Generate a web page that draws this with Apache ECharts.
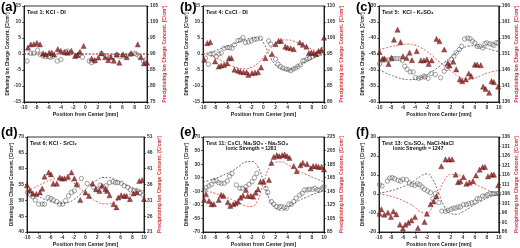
<!DOCTYPE html>
<html>
<head>
<meta charset="utf-8">
<script src="https://cdn.jsdelivr.net/npm/echarts@6/dist/echarts.min.js"></script>
<style>
  html, body { margin: 0; background: #fff; }
  #chart { width: 520px; height: 248px; }
</style>
</head>
<body>
<div id="chart"></div>
<script>
// shared x positions of the model (dashed) curves
const modelX = [-10, -9, -8, -7, -6, -5, -4, -3, -2, -1, 0, 1, 2, 3, 4, 5, 6, 7, 8, 9, 10];

// (a) Test 1: KCl - DI
const aCircles = [[-9.5,-2.2],[-8.9,0.2],[-8.4,0.2],[-7.8,1.2],[-7.4,-0.1],[-6.9,-0.6],[-6.5,-0.8],[-6.0,-0.8],[-5.7,-1.0],[-5.3,-0.8],[-4.6,-2.2],[-4.0,-1.7],[-3.3,0.7],[-2.9,0.9],[-2.4,0.4],[-1.5,-0.6],[-1.1,-0.3],[-0.5,-1.0],[0.6,-2.2],[1.0,-2.7],[1.5,-2.2],[2.6,0.2],[3.3,-0.6],[4.0,-1.1],[4.5,-0.8],[5.1,-0.3],[5.6,-0.8],[6.1,-0.6],[6.7,-0.6],[7.4,-0.1],[8.0,0.2],[8.3,-0.1],[8.8,-0.8],[9.4,-2.2],[9.8,-1.9]];
const aTriangles = [[-9.35,92.0],[-8.9,93.0],[-8.4,93.1],[-7.9,93.5],[-7.4,93.0],[-6.9,90.2],[-6.5,89.9],[-5.9,90.4],[-5.5,90.4],[-5.1,89.9],[-4.5,91.5],[-4.0,91.0],[-3.4,90.5],[-2.9,90.4],[-2.3,91.0],[-1.7,89.4],[-1.3,89.7],[-0.9,90.7],[-0.3,92.5],[1.0,88.6],[1.5,88.1],[2.1,88.9],[2.6,90.2],[3.2,89.0],[3.7,88.1],[4.1,89.0],[4.6,87.9],[5.1,89.9],[5.5,87.3],[6.1,89.9],[6.7,89.0],[7.4,90.2],[8.5,93.0],[9.0,89.0],[9.5,87.1],[10,87.3]];
const aBlack = [0,0,0,0,0,0,0,0,0,0,0,0,0,0,0,0,0,0,0,0,0];
const aRed = [90,90,90,90,90,90,90,90,90,90,90,90,90,90,90,90,90,90,90,90,90];
const aLeftTicks = [-15, -10, -5, 0, 5, 10, 15];
const aRightTicks = [75, 80, 85, 90, 95, 100, 105];

// (b) Test 4: CsCl - DI
const bCircles = [[-9.6,-1.3],[-9.1,-3.2],[-8.7,0],[-8.3,0],[-7.8,-0.8],[-7.4,0],[-7.0,0.3],[-6.5,1.8],[-6.0,2.0],[-5.6,2.0],[-5.2,1.8],[-4.8,2.9],[-4.2,4.2],[-3.8,4.4],[-3.4,5.1],[-3.0,3.6],[-2.5,3.7],[-2.0,4.1],[-1.5,4.6],[-1.1,4.7],[-0.5,4.9],[0.85,4.1],[1.2,3.1],[2.0,-1.6],[2.4,-3.2],[2.8,-3.9],[3.2,-4.4],[3.7,-4.7],[4.1,-4.9],[4.5,-5.2],[4.9,-4.7],[5.3,-4.4],[5.7,-3.9],[6.1,-3.4],[6.5,-2.1],[6.8,-2.1],[7.2,-1.6],[7.6,-1.3],[8.1,-0.8],[8.6,-0.3],[9.0,0],[9.4,0.5],[9.8,1.5]];
const bTriangles = [[-9.8,93.2],[-9.3,98.4],[-8.8,98.7],[-8.0,92.7],[-7.4,91.1],[-7.0,91.4],[-6.5,91.6],[-6.0,92.1],[-5.7,93.7],[-5.3,93.7],[-4.8,90.1],[-4.2,89.8],[-3.8,89.5],[-3.3,89.3],[-2.8,89.3],[-2.5,88.5],[-1.9,89.0],[-1.4,89.2],[-0.9,89.3],[-0.4,90.8],[0.3,93.7],[1.4,95.0],[2.0,98.1],[2.5,99.1],[2.9,99.1],[3.6,97.3],[4.0,97.0],[4.5,96.8],[5.0,96.5],[6.0,98.6],[6.5,97.9],[7.1,97.3],[7.5,95.3],[7.9,95.5],[8.3,95.3],[8.7,95.0],[9.1,96.0],[9.6,96.3],[10,100.1]];
const bBlack = [0,0.4,1,1.7,2.4,3.1,3.8,4.5,5,5.1,3.5,-0.5,-3.5,-4.7,-5,-4.5,-3.5,-2.5,-1.5,-0.7,0];
const bRed = [95,94.7,94,93,92,91.1,90.6,90.4,90.8,92,94,96.5,98.3,99.3,99.4,99,98.2,97.4,96.5,95.7,95];
const bLeftTicks = [-15, -10, -5, 0, 5, 10, 15];
const bRightTicks = [80, 85, 90, 95, 100, 105, 110];

// (c) Test 5: KCl - K2SO4
const cCircles = [[-9.9,-48.1],[-9.4,-46.9],[-8.9,-46.9],[-8.4,-46.9],[-7.9,-46.5],[-7.5,-46.4],[-7.0,-46.4],[-6.5,-46.5],[-6.1,-47.0],[-5.7,-48.8],[-5.3,-49.8],[-4.8,-50.6],[-4.3,-50.6],[-3.9,-52.4],[-3.4,-52.6],[-3.0,-52.4],[-2.5,-51.9],[-2.3,-52.2],[-1.8,-52.6],[-1.3,-51.1],[-0.6,-51.4],[0.3,-52.4],[0.9,-50.4],[1.3,-49.5],[1.5,-48.8],[2.1,-46.7],[2.5,-45.7],[2.9,-44.6],[3.4,-43.6],[3.8,-42.6],[4.3,-40.3],[4.8,-40],[5.2,-40.2],[5.6,-41.0],[6.0,-41.5],[6.4,-42.6],[6.8,-42.6],[7.3,-43.1],[7.7,-41.8],[8.0,-41.5],[8.5,-41.8],[8.9,-42.0],[9.2,-42.3],[9.6,-41.5],[9.9,-41.5]];
const cTriangles = [[-9.9,151.6],[-9.4,149.5],[-9.1,149.6],[-8.4,147.9],[-7.9,149.8],[-7.5,155.5],[-6.9,158.6],[-6.4,154.7],[-6.0,150.3],[-5.4,149.8],[-4.9,151.4],[-4.5,149.1],[-3.7,151.9],[-3.0,149.0],[-2.5,149.0],[-2.0,149.3],[-1.7,147.9],[-1.2,149.0],[-0.4,155.7],[0.1,155.0],[0.9,152.4],[1.5,148.2],[1.8,147.4],[2.4,148.6],[2.9,146.2],[3.5,143.1],[3.9,142.5],[4.5,143.1],[5.0,144.9],[5.4,144.1],[6.0,147.7],[6.4,147.7],[7.0,147.5],[7.4,140.8],[7.8,140.1],[8.4,138.9],[8.8,142.5],[9.2,142.2],[9.9,140.8]];
const cBlack = [-49.8,-50.8,-51.6,-52.3,-52.8,-53,-52.9,-52.4,-51.5,-50.3,-49,-47.5,-46,-44.5,-43.2,-42.5,-42.4,-42.7,-43.2,-43.8,-44.3];
const cRed = [152.4,152.8,153.3,153.7,154,154.1,153.8,153,151.8,150.3,148.7,147.2,145.7,144.3,143.4,143,143.4,144.2,145,145.5,145.9];
const cLeftTicks = [-60, -55, -50, -45, -40, -35, -30];
const cRightTicks = [136, 141, 146, 151, 156, 161, 166];

// (d) Test 6: KCl - SrCl2
const dCircles = [[-9.9,52.5],[-9.4,51.7],[-9.0,51.1],[-8.6,50.1],[-8.0,48.8],[-7.4,48.8],[-7.0,48.8],[-6.4,50.9],[-5.9,50.6],[-5.5,50.1],[-4.9,49.6],[-4.4,48.8],[-3.9,48.8],[-3.4,49.9],[-2.9,51.4],[-2.4,52.5],[-1.9,53.0],[-1.4,54.8],[-0.7,56.9],[0.3,55.3],[1.4,54.1],[1.9,53.5],[2.5,54.8],[3.1,54.1],[3.5,54.6],[4.1,55.6],[4.7,55.9],[5.1,55.6],[5.5,55.6],[6.1,55.4],[6.6,54.6],[7.2,54.1],[7.7,53.3],[8.2,53.0],[8.8,53.0],[9.3,52.3],[9.8,51.7]];
const dTriangles = [[-10,35.8],[-9.5,34.2],[-9.0,33.2],[-8.4,33.0],[-7.8,33.5],[-7.4,34.7],[-7.0,38.5],[-6.3,39.8],[-5.9,39.2],[-5.5,36.3],[-4.9,36.3],[-4.4,38.2],[-4.0,37.9],[-3.6,37.9],[-3.0,38.5],[-2.4,39.8],[-1.9,37.9],[-1.5,36.1],[-0.9,31.1],[0,33.5],[0.6,32.4],[1.2,36.3],[1.8,34.5],[2.4,34.0],[2.8,35.6],[3.4,34.5],[3.7,34.0],[4.1,32.6],[4.8,29.8],[5.3,28.8],[5.6,31.9],[6.1,32.6],[6.6,32.4],[7.0,32.4],[7.6,31.4],[8.2,33.2],[8.8,33.5],[9.2,37.1],[9.7,37.4],[10,31.4]];
const dBlack = [53,52.2,51.2,50.3,49.6,49.1,49,49.3,50.2,51.7,53.5,55.2,56.5,57.2,57.2,56.6,55.7,54.8,54,53.4,53];
const dRed = [34,34.8,35.7,36.6,37.4,37.9,38,37.6,36.5,34.9,33.2,31.6,30.5,29.9,29.9,30.5,31.5,32.4,33.2,33.7,34];
const dLeftTicks = [40, 45, 50, 55, 60, 65, 70];
const dRightTicks = [21, 26, 31, 36, 41, 46, 51];

// (e) Test 11: CsCl, Na2SO4 - Na2SO4
const eCircles = [[-9.8,-8],[-9.5,-4.6],[-9.0,-2.2],[-8.6,0.2],[-8.2,5.1],[-7.8,5.6],[-7.4,2.7],[-7.0,1.7],[-6.5,1.7],[-6.0,5.1],[-5.6,12.4],[-5.2,16.3],[-4.5,-0.7],[-3.9,-5.6],[-3.5,-5.6],[-2.9,-3.2],[-2.4,0.2],[-1.9,4.1],[-1.5,10.0],[-1.1,16.3],[0.4,-5.6],[0.7,-12.0],[1.3,-25.1],[1.7,-29.0],[2.1,-32.4],[2.6,-33.4],[2.9,-32.4],[3.4,-33.4],[3.8,-34.9],[4.2,-29.0],[4.6,-29.0],[5.0,-25.1],[5.4,-20.2],[6.0,-15.4],[6.4,-12.9],[6.8,-8.0],[7.2,-8.0],[7.6,-7.1],[8.1,-7.1],[8.5,-5.6],[8.9,-8.0],[9.3,-8.0],[9.7,-5.6],[10,-3.2]];
const eTriangles = [[-9.8,132.3],[-9.5,140.6],[-9.0,130.9],[-8.6,126],[-8.2,126],[-7.4,132.3],[-7.0,139.6],[-6.6,138.2],[-5.9,128.9],[-5.5,123.5],[-5.0,126],[-4.6,127.4],[-4.2,129.9],[-3.8,135.7],[-3.4,138.7],[-2.9,147],[-2.6,138.2],[-2.1,138.2],[-1.7,137.2],[-1.3,143],[-0.9,147.9],[-0.5,159.1],[0,159.1],[0.9,161.6],[1.3,187],[1.7,195.7],[2.2,198.2],[2.6,196.7],[3.1,198.2],[3.5,199.1],[3.9,196.7],[4.3,194.3],[5.0,182.1],[5.5,174.8],[6.1,183.5],[6.5,187],[7.2,185],[7.8,178.7],[8.2,182.1],[8.7,182.1],[9.1,181.1],[9.6,181.1],[10,177.2]];
const eBlack = [3.5,6,9,12.5,16.5,21,27,33,34,27,5,-22,-35,-38,-34,-28,-23,-19,-15,-12,-9];
const eRed = [146.5,144.5,142,139,135.5,132,128,123.5,122.5,131,157,181,188,188.5,184,179,174,170,166,162.5,159];
const eLeftTicks = [-70, -50, -30, -10, 10, 30, 50, 70];
const eRightTicks = [85, 105, 125, 145, 165, 185, 205, 225];

// (f) Test 13: Cs2SO4, NaCl-NaCl
const fCircles = [[-9.9,4.9],[-9.5,4.2],[-8.6,6.8],[-8.2,8.4],[-7.8,8.6],[-7.4,8.1],[-6.8,7.2],[-6.4,6.8],[-6.0,7.7],[-5.4,7.5],[-4.9,5.8],[-4.5,4.9],[-4.0,4.6],[-3.6,5.4],[-3.2,4.9],[-2.8,3.7],[-2.4,2.5],[-1.9,1.6],[-1.4,0.7],[-1.0,-2.5],[-0.6,0.2],[0.0,-4.6],[0.5,-9.0],[1.1,-9.1],[1.5,-8.6],[2.0,-8.1],[2.4,-7.4],[2.8,-7.4],[3.2,-6.8],[3.6,-6.8],[4.1,-5.6],[4.6,-5.6],[5.0,-5.1],[5.5,-4.6],[6.0,-4.2],[6.4,-2.5],[6.8,-2.5],[7.3,-1.1],[7.7,-1.1],[8.1,-0.4],[8.5,0.2],[8.9,0.2],[9.3,0.2],[9.7,0.2],[10,0.2]];
const fTriangles = [[-9.9,95.6],[-9.6,97.9],[-9.1,95.1],[-8.5,96.2],[-8.0,93.9],[-7.6,96.9],[-7.1,95.3],[-6.5,89.9],[-6.0,87.8],[-5.6,89.9],[-5.1,90.9],[-4.6,92.1],[-4.0,93.9],[-3.5,88.1],[-2.4,91.3],[-2.0,95.6],[-1.4,100.6],[-0.9,102.1],[-0.4,104.8],[0.4,120.6],[1.1,124.2],[1.7,124.2],[2.2,124.2],[2.8,116.2],[3.2,112.3],[3.6,112.7],[4.1,114.9],[4.6,111.4],[5.1,112],[5.7,112.8],[6.2,115.8],[6.8,118.8],[7.3,120.2],[7.7,120.2],[8.2,115.3],[8.8,116.2],[9.2,116.2],[9.9,110.6]];
const fBlack = [0.5,1,1.7,2.6,3.8,5.3,7.2,9.5,10.6,7.5,0,-7,-10.3,-10.7,-9.3,-7.5,-5.5,-3.8,-2.3,-1,0];
const fRed = [106,105.5,104.8,103.8,102.5,101,99,96.5,96,100,107,113.5,116.3,116.3,114.7,113,111.2,109.7,108.3,107,106];
const fLeftTicks = [-20, -10, 0, 10, 20, 30];
const fRightTicks = [86, 91, 96, 101, 106, 111, 116, 121, 126, 131, 136];

const font = "'Liberation Sans', Arial, 'DejaVu Sans', sans-serif";
const redText = '#d8333a';

const panels = [
  { grid: { left: 24, top: 6, width: 123, height: 96 }, letter: '(a)', letterPos: [1, 1],
    title: 'Test 1: KCl - DI', circles: aCircles, triangles: aTriangles, black: aBlack, red: aRed, lt: aLeftTicks, rt: aRightTicks },
  { grid: { left: 203, top: 6, width: 121, height: 96 }, letter: '(b)', letterPos: [180, 1],
    title: 'Test 4: CsCl - DI', circles: bCircles, triangles: bTriangles, black: bBlack, red: bRed, lt: bLeftTicks, rt: bRightTicks },
  { grid: { left: 379, top: 6, width: 120, height: 96 }, letter: '(c)', letterPos: [356, 1],
    title: 'Test 5:  KCl - K\u2082SO\u2084', circles: cCircles, triangles: cTriangles, black: cBlack, red: cRed, lt: cLeftTicks, rt: cRightTicks },
  { grid: { left: 27, top: 137, width: 117, height: 95 }, letter: '(d)', letterPos: [1, 126],
    title: 'Test 6: KCl - SrCl\u2082', circles: dCircles, triangles: dTriangles, black: dBlack, red: dRed, lt: dLeftTicks, rt: dRightTicks },
  { grid: { left: 203, top: 137, width: 121, height: 96 }, letter: '(e)', letterPos: [180, 126],
    title: 'Test 11: CsCl, Na\u2082SO\u2083 - Na\u2082SO\u2084', sub: 'Ionic Strength = 1281', subX: 226,
    circles: eCircles, triangles: eTriangles, black: eBlack, red: eRed, lt: eLeftTicks, rt: eRightTicks },
  { grid: { left: 379, top: 137, width: 120, height: 95 }, letter: '(f)', letterPos: [356, 126],
    title: 'Test 13: Cs\u2082SO\u2084, NaCl-NaCl', sub: 'Ionic Strength = 1247', subX: 393,
    circles: fCircles, triangles: fTriangles, black: fBlack, red: fRed, lt: fLeftTicks, rt: fRightTicks },
];

const tickLabel = { fontSize: 5, fontWeight: 'bold', color: '#333', fontFamily: font };
const axisLine = { onZero: false, lineStyle: { color: '#000', width: 0.8 } };
const axisTick = { length: 2, lineStyle: { color: '#000', width: 0.6 } };
const nameStyle = { fontSize: 4.6, fontWeight: 'bold', color: '#222', fontFamily: font };

const option = { animation: false, grid: [], xAxis: [], yAxis: [], series: [], graphic: [] };

panels.forEach((p, i) => {
  option.grid.push({ ...p.grid, show: true, borderColor: '#000', borderWidth: 0.8 });
  option.xAxis.push({
    type: 'value', gridIndex: i, min: -10, max: 10, interval: 2,
    name: 'Position from Center [mm]', nameLocation: 'middle', nameGap: 10,
    nameTextStyle: { ...nameStyle, fontSize: 5.2 },
    axisLine, axisTick, splitLine: { show: false },
    axisLabel: { ...tickLabel, margin: 3 },
  });
  option.yAxis.push({
    type: 'value', gridIndex: i, position: 'left', min: p.lt[0], max: p.lt[p.lt.length - 1],
    name: 'Diffusing Ion Charge Concent. [C/cm\u00b3]', nameLocation: 'middle', nameRotate: 90, nameGap: 9.5,
    nameTextStyle: nameStyle,
    axisLine, axisTick: { ...axisTick, customValues: p.lt }, splitLine: { show: false },
    axisLabel: { ...tickLabel, margin: 3, customValues: p.lt },
  });
  option.yAxis.push({
    type: 'value', gridIndex: i, position: 'right', min: p.rt[0], max: p.rt[p.rt.length - 1],
    name: 'Precipitating Ion Charge Concent. [C/cm\u00b3]', nameLocation: 'middle', nameRotate: 90, nameGap: 13,
    nameTextStyle: { ...nameStyle, fontSize: 4.9, color: redText },
    axisLine, axisTick: { ...axisTick, customValues: p.rt }, splitLine: { show: false },
    axisLabel: { ...tickLabel, margin: 3, customValues: p.rt },
  });
  const yl = 2 * i, yr = 2 * i + 1;
  option.series.push(
    { type: 'line', xAxisIndex: i, yAxisIndex: yl, data: modelX.map((x, k) => [x, p.black[k]]),
      smooth: true, showSymbol: false, silent: true, z: 1,
      lineStyle: { color: '#444', width: 0.8, type: [2, 1.6] } },
    { type: 'line', xAxisIndex: i, yAxisIndex: yr, data: modelX.map((x, k) => [x, p.red[k]]),
      smooth: true, showSymbol: false, silent: true, z: 1,
      lineStyle: { color: '#e0393e', width: 0.8, type: [2, 1.6] } },
    { type: 'scatter', xAxisIndex: i, yAxisIndex: yl, data: p.circles, symbol: 'circle', symbolSize: 4.4, z: 3,
      itemStyle: { color: 'rgba(255,255,255,0)', borderColor: '#555', borderWidth: 0.7 } },
    { type: 'scatter', xAxisIndex: i, yAxisIndex: yr, data: p.triangles, symbol: 'triangle', symbolSize: 5.2, z: 4,
      itemStyle: { color: '#8b1d1d', borderColor: '#4d0b0b', borderWidth: 0.4 } },
  );
  option.graphic.push({
    type: 'text', left: p.letterPos[0], top: p.letterPos[1],
    style: { text: p.letter, font: 'bold 13px ' + font, fill: '#000' },
  });
  option.graphic.push({
    type: 'text', left: p.grid.left + 3, top: p.grid.top + 3,
    style: { text: p.title, font: 'bold 5.5px ' + font, fill: '#111' },
  });
  if (p.sub) {
    option.graphic.push({
      type: 'text', left: p.subX, top: p.grid.top + 9.5,
      style: { text: p.sub, font: 'bold 5px ' + font, fill: '#111' },
    });
  }
});

const chart = echarts.init(document.getElementById('chart'), null, { renderer: 'canvas' });
chart.setOption(option);
</script>
</body>
</html>
